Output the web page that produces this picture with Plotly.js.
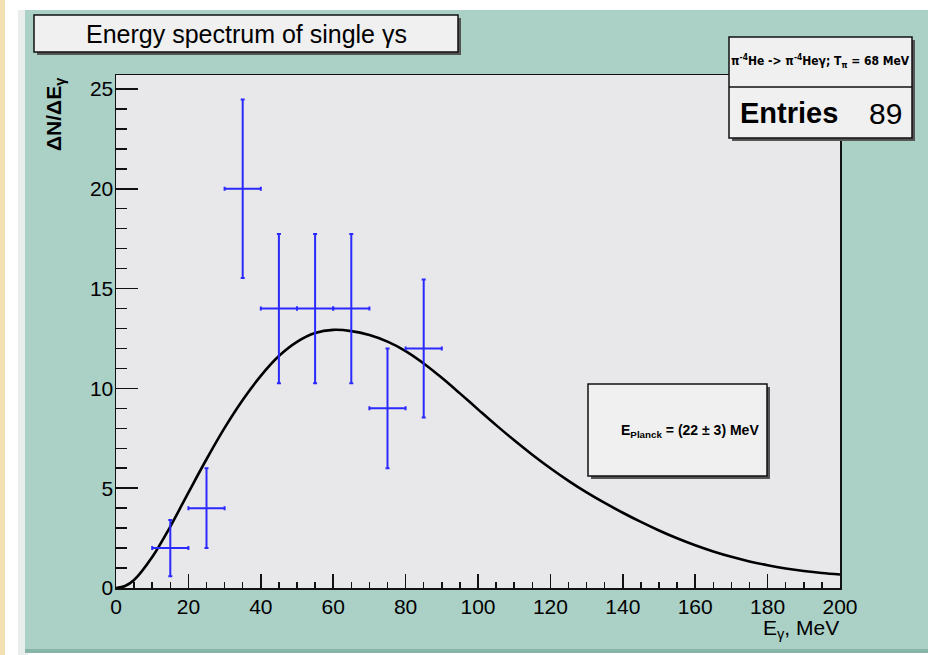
<!DOCTYPE html>
<html>
<head>
<meta charset="utf-8">
<script src="https://cdn.plot.ly/plotly-3.0.1.min.js"></script>
<style>
  html, body { margin: 0; padding: 0; background: #ffffff; }
  #chart { width: 928px; height: 655px; }
</style>
</head>
<body>
<div id="chart"></div>
<script>
// ---- data ----
const binCenters = [15, 25, 35, 45, 55, 65, 75, 85];
const binHalfWidth = [5, 5, 5, 5, 5, 5, 5, 5];
const counts = [2, 4, 20, 14, 14, 14, 9, 12];
const countErrors = [1.41, 2.0, 4.47, 3.74, 3.74, 3.74, 3.0, 3.46];

const fitE = [0, 2.5, 5, 10, 15, 20, 25, 30, 35, 40, 45, 50, 55, 60, 65, 70, 75, 80, 85, 90, 95, 100,
              105, 110, 115, 120, 125, 130, 135, 140, 145, 150, 155, 160, 165, 170, 175, 180, 185, 190, 195, 200];
const fitVal = [0, 0.1, 0.4, 1.55, 3.08, 4.78, 6.45, 8.02, 9.42, 10.63, 11.62, 12.33, 12.77, 12.93, 12.87, 12.67, 12.34, 11.87, 11.25, 10.53, 9.75, 8.95,
                8.16, 7.40, 6.68, 6.00, 5.37, 4.79, 4.26, 3.77, 3.31, 2.88, 2.49, 2.14, 1.83, 1.56, 1.33, 1.14, 0.98, 0.85, 0.75, 0.68];

const xTickVals = [0, 20, 40, 60, 80, 100, 120, 140, 160, 180, 200];
const yTickVals = [0, 5, 10, 15, 20, 25];

const titleText = 'Energy spectrum of single \u03b3s';
const statsHeader = '\u03c0<sup>-4</sup>He -> \u03c0<sup>-4</sup>He\u03b3; T<sub>\u03c0</sub> = 68 MeV';
const entriesLabel = 'Entries';
const entriesValue = '89';
const fitLabel = 'E<sub>Planck</sub> = (22 \u00b1 3) MeV';
const xTitle = 'E<sub>\u03b3</sub>, MeV';
const yTitle = '\u0394N/\u0394E<sub>\u03b3</sub>';

// ---- layout geometry (pixels) ----
const W = 928, H = 655;
const L = 116, R = 840, T = 75, B = 588;
const pw = R - L, ph = B - T;
const px = v => (v - L) / pw;
const py = v => (B - v) / ph;

const COND = '"DejaVu Sans Condensed", "Liberation Sans", Arial, sans-serif';
const SANS = '"Liberation Sans", Arial, sans-serif';

function rect(x0, y0, x1, y1, fill, line, lw, layer) {
  return {type: 'rect', xref: 'paper', yref: 'paper',
          x0: px(x0), x1: px(x1), y0: py(y1), y1: py(y0),
          fillcolor: fill, line: {color: line || 'rgba(0,0,0,0)', width: lw || 0},
          layer: layer || 'below'};
}
function boxWithShadow(x0, y0, x1, y1, layer) {
  return [
    rect(x0 + 3, y0 + 3, x1 + 3, y1 + 3, '#555555', null, 0, layer),
    rect(x0, y0, x1, y1, '#f0f0f0', '#111111', 1.5, layer)
  ];
}

const shapes = [
  // page decorations
  rect(0, 0, 5, H, '#f2dfb2', null, 0),
  rect(18, 10, 28, H, '#e9eeec', null, 0),
  rect(25, 10, W, 649, '#abd0c6', null, 0),
  rect(25, 649, W, 653, '#86b5a8', null, 0),
  // plot area
  rect(L, T, R, B, '#e8e7e9', null, 0),
  ...boxWithShadow(34, 15, 458, 52, 'below'),
  ...boxWithShadow(729, 37, 912, 138, 'above'),
  {type: 'line', xref: 'paper', yref: 'paper', x0: px(729), x1: px(912), y0: py(87), y1: py(87),
   line: {color: '#111111', width: 1.5}, layer: 'above'},
  ...boxWithShadow(588, 384, 767, 476, 'above')
];

const annotations = [
  {xref: 'paper', yref: 'paper', x: px(246), y: py(34), text: titleText, showarrow: false,
   xanchor: 'center', yanchor: 'middle', font: {family: SANS, size: 25, color: '#000'}},
  {xref: 'paper', yref: 'paper', x: px(820), y: py(61), text: statsHeader, showarrow: false,
   xanchor: 'center', yanchor: 'middle', font: {family: COND, size: 12, color: '#000', weight: 'bold'}},
  {xref: 'paper', yref: 'paper', x: px(738), y: py(113), text: entriesLabel, showarrow: false,
   xanchor: 'left', yanchor: 'middle', font: {family: SANS, size: 29, color: '#000', weight: 'bold'}},
  {xref: 'paper', yref: 'paper', x: px(904), y: py(113), text: entriesValue, showarrow: false,
   xanchor: 'right', yanchor: 'middle', font: {family: SANS, size: 30, color: '#000'}},
  {xref: 'paper', yref: 'paper', x: px(761), y: py(431), text: fitLabel, showarrow: false,
   xanchor: 'right', yanchor: 'middle', font: {family: SANS, size: 14, color: '#000', weight: 'bold'}},
  {xref: 'paper', yref: 'paper', x: px(841), y: py(629), text: xTitle, showarrow: false,
   xanchor: 'right', yanchor: 'middle', font: {family: SANS, size: 21, color: '#000'}},
  {xref: 'paper', yref: 'paper', x: px(55), y: py(75), text: yTitle, showarrow: false, textangle: -90,
   xanchor: 'center', yanchor: 'top', font: {family: SANS, size: 21, color: '#000', weight: 'bold'}}
];

const traces = [
  {
    type: 'scatter', mode: 'lines', x: fitE, y: fitVal,
    line: {color: '#000000', width: 2.6, shape: 'spline', smoothing: 1},
    hoverinfo: 'skip', showlegend: false
  },
  {
    type: 'scatter', mode: 'markers', x: binCenters, y: counts,
    marker: {size: 1, color: 'rgba(0,0,0,0)'},
    error_y: {type: 'data', array: countErrors, visible: true, color: '#2a2aff', thickness: 2, width: 2},
    error_x: {type: 'data', array: binHalfWidth, visible: true, color: '#2a2aff', thickness: 2, width: 2},
    hoverinfo: 'skip', showlegend: false
  }
];

const axisCommon = {
  showgrid: false, zeroline: false, showline: true, mirror: true,
  linecolor: '#111111', linewidth: 1.5,
  ticks: 'inside', tickcolor: '#111111', tickwidth: 1.5,
  tickfont: {family: SANS, size: 21, color: '#000000'}
};

const layout = {
  width: W, height: H,
  margin: {l: L, r: W - R, t: T, b: H - B, pad: 0},
  paper_bgcolor: '#ffffff',
  plot_bgcolor: 'rgba(0,0,0,0)',
  showlegend: false,
  xaxis: Object.assign({}, axisCommon, {
    range: [0, 200], tickmode: 'array', tickvals: xTickVals, ticklen: 14,
    minor: {dtick: 5, ticks: 'inside', ticklen: 6, tickcolor: '#111111', tickwidth: 1.5},
    ticklabelstandoff: -1
  }),
  yaxis: Object.assign({}, axisCommon, {
    range: [0, 25.7], tickmode: 'array', tickvals: yTickVals, ticklen: 22,
    minor: {dtick: 1, ticks: 'inside', ticklen: 11, tickcolor: '#111111', tickwidth: 1.5},
    ticklabelstandoff: -3
  }),
  shapes: shapes,
  annotations: annotations
};

Plotly.newPlot('chart', traces, layout, {displayModeBar: false, staticPlot: true});
</script>
</body>
</html>
